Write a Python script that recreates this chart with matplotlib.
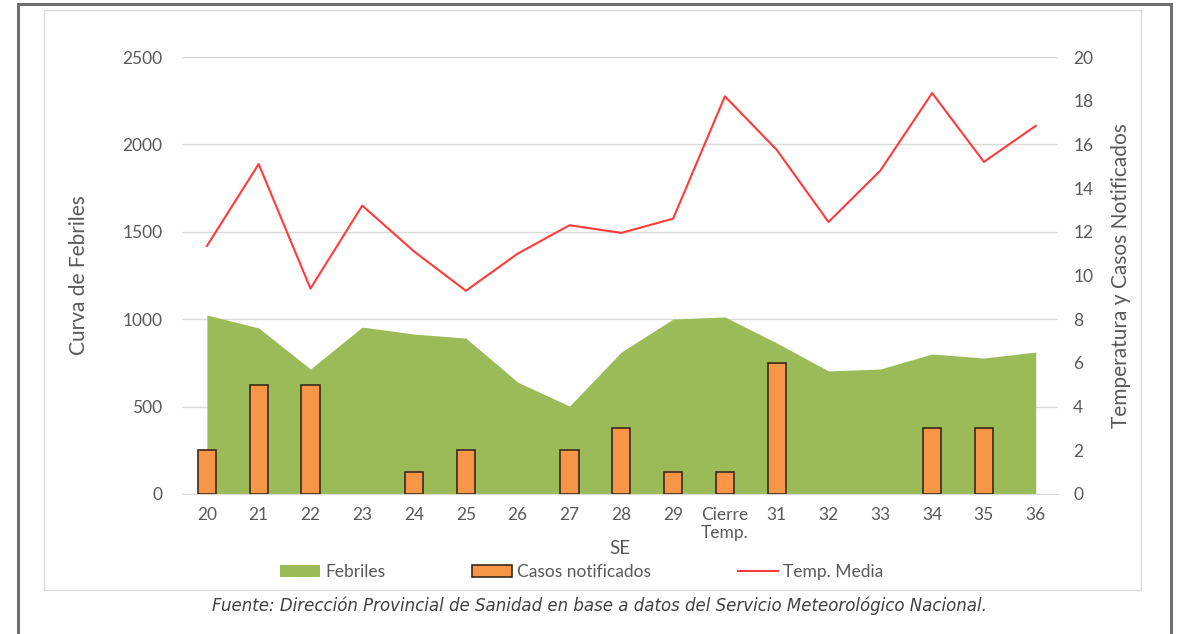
import matplotlib.pyplot as plt
from matplotlib.patches import Rectangle

plt.rcParams['font.family'] = ['Lato', 'DejaVu Sans']

semanas = ['20', '21', '22', '23', '24', '25', '26', '27', '28', '29',
           'Cierre\nTemp.', '31', '32', '33', '34', '35', '36']
febriles = [1024, 950, 715, 955, 915, 892, 640, 503, 812, 1001,
            1013, 864, 704, 715, 801, 778, 812]
casos = [2, 5, 5, 0, 1, 2, 0, 2, 3, 1, 1, 6, 0, 0, 3, 3, 0]
temp_media = [11.35, 15.1, 9.4, 13.2, 11.1, 9.3, 11.0, 12.3, 11.95, 12.6,
              18.2, 15.75, 12.45, 14.8, 18.35, 15.2, 16.85]

gris = '#595959'
x = list(range(len(semanas)))

fig = plt.figure(figsize=(11.78, 6.34), dpi=100)

# marcos exteriores
fig.patches.append(Rectangle((18 / 1178, -0.05), 1153 / 1178, 1 - 4 / 634 + 0.05,
                             transform=fig.transFigure, fill=False,
                             edgecolor='#6e6e6e', linewidth=2.2))
fig.patches.append(Rectangle((44 / 1178, 1 - 590 / 634), 1097 / 1178, 580 / 634,
                             transform=fig.transFigure, fill=False,
                             edgecolor='#d9d9d9', linewidth=1))

ax1 = fig.add_axes([182 / 1178, 1 - 494 / 634, 876 / 1178, 437 / 634])
ax2 = ax1.twinx()

ax1.fill_between(x, febriles, 0, color='#9BBB59', linewidth=0, label='Febriles', zorder=2)
ax1.set_ylim(0, 2500)
ax1.set_yticks(range(0, 2501, 500))
ax1.yaxis.grid(True, color='#d9d9d9', linewidth=1)
ax1.set_axisbelow(True)
ax1.set_xlim(-0.48, 16.43)
ax1.set_xticks(x)
ax1.set_xticklabels(semanas)

bordes = ['#3a2a1a' if c > 0 else 'none' for c in casos]
ax2.bar(x, casos, width=0.35, color='#F79646', edgecolor=bordes, linewidth=1.2,
        label='Casos notificados', zorder=3)
ax2.plot(x, temp_media, color='#FF3B3B', linewidth=1.5, label='Temp. Media', zorder=4)
ax2.set_ylim(0, 20)
ax2.set_yticks(range(0, 21, 2))

for a in (ax1, ax2):
    for s in a.spines.values():
        s.set_visible(False)
    a.tick_params(length=0, colors=gris, labelsize=12.5)
ax1.spines['bottom'].set_visible(True)
ax1.spines['bottom'].set_color('#d9d9d9')
ax1.tick_params(axis='x', pad=9)
ax1.tick_params(axis='y', pad=14)
ax2.tick_params(axis='y', pad=11)

ax1.set_xlabel('SE', color=gris, fontsize=13.5, labelpad=-1)
ax1.set_ylabel('Curva de Febriles', color=gris, fontsize=15, labelpad=24)
ax2.set_ylabel('Temperatura y Casos Notificados', color=gris, fontsize=15, labelpad=13)

h1, l1 = ax1.get_legend_handles_labels()
h2, l2 = ax2.get_legend_handles_labels()
handles = [h1[0], h2[1], h2[0]]
labels = [l1[0], l2[1], l2[0]]
fig.legend(handles, labels, loc='center', bbox_to_anchor=(0.494, 1 - 572 / 634),
           ncol=3, frameon=False, fontsize=12.5, labelcolor=gris,
           handlelength=2.3, handletextpad=0.3, columnspacing=5.0)

fig.text(0.509, 1 - 606 / 634,
         'Fuente: Dirección Provincial de Sanidad en base a datos del Servicio Meteorológico Nacional.',
         ha='center', va='center', style='italic', fontsize=12,
         family='DejaVu Sans', color='#404040')

fig.savefig('out.png', dpi=100)
